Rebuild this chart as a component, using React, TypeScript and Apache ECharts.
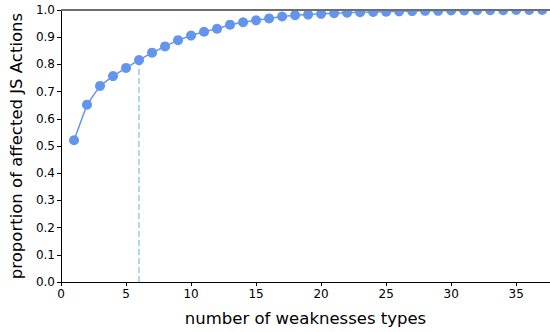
import React, { useEffect, useRef } from "react";
import * as echarts from "echarts";

const xValues = [1,2,3,4,5,6,7,8,9,10,11,12,13,14,15,16,17,18,19,20,21,22,23,24,25,26,27,28,29,30,31,32,33,34,35,36,37];
const proportions = [0.521,0.652,0.721,0.757,0.787,0.816,0.843,0.866,0.889,0.906,0.92,0.931,0.946,0.955,0.962,0.969,0.976,0.981,0.983,0.986,0.988,0.99,0.992,0.993,0.994,0.995,0.996,0.997,0.997,0.998,0.998,0.999,0.999,0.999,1.0,1.0,1.0];
const markerX = 6;
const markerY = 0.816;
const refLineY = 1.0;
const xMin = 0;
const xMax = 37.6;

export default function App() {
  const ref = useRef<HTMLDivElement>(null);
  useEffect(() => {
    if (!ref.current) return;
    const chart = echarts.init(ref.current, null, { renderer: "svg" });
    const font = "DejaVu Sans";
    chart.setOption({
      animation: false,
      grid: { left: 58, right: 0, top: 10, bottom: 46 },
      graphic: [
        {
          type: "rect",
          z: 100,
          silent: true,
          shape: { x: 59, y: 0, width: 491, height: 9 },
          style: { fill: "#fff" },
        },
      ],
      xAxis: {
        type: "value",
        min: xMin,
        max: xMax,
        interval: 5,
        name: "number of weaknesses types",
        nameLocation: "middle",
        nameGap: 28,
        nameTextStyle: { fontFamily: font, fontSize: 16.5, color: "#000" },
        axisLine: { lineStyle: { color: "#000", width: 1 } },
        axisTick: { show: true, length: 4, lineStyle: { color: "#000" } },
        axisLabel: { fontFamily: font, fontSize: 12, color: "#000", margin: 6, showMaxLabel: false },
        splitLine: { show: false },
      },
      yAxis: {
        type: "value",
        min: 0,
        max: 1,
        interval: 0.1,
        name: "proportion of affected JS Actions",
        nameLocation: "middle",
        nameGap: 36,
        nameTextStyle: { fontFamily: font, fontSize: 16.5, color: "#000" },
        axisLine: { show: true, lineStyle: { color: "#000", width: 1 } },
        axisTick: { show: true, length: 4, lineStyle: { color: "#000" } },
        axisLabel: { fontFamily: font, fontSize: 12, color: "#000", margin: 6, formatter: (v: number) => v.toFixed(1) },
        splitLine: { show: false },
      },
      series: [
        {
          type: "line",
          data: xValues.map((x, i) => [x, proportions[i]]),
          symbol: "circle",
          symbolSize: 10,
          itemStyle: { color: "#6495ed" },
          lineStyle: { color: "#6495ed", width: 1.5 },
          z: 2,
        },
        {
          type: "line",
          data: [[markerX, 0], [markerX, markerY]],
          symbol: "none",
          lineStyle: { color: "#add8e6", width: 2, type: [6, 3] },
          silent: true,
          z: 1,
        },
        {
          type: "line",
          data: [[xMin, refLineY], [xMax, refLineY]],
          symbol: "none",
          lineStyle: { color: "#6e6e6e", width: 1.8 },
          silent: true,
          z: 3,
        },
      ],
    });
    return () => chart.dispose();
  }, []);
  return <div ref={ref} style={{ position: "absolute", left: 0, top: 0, width: 550, height: 332 }} />;
}
